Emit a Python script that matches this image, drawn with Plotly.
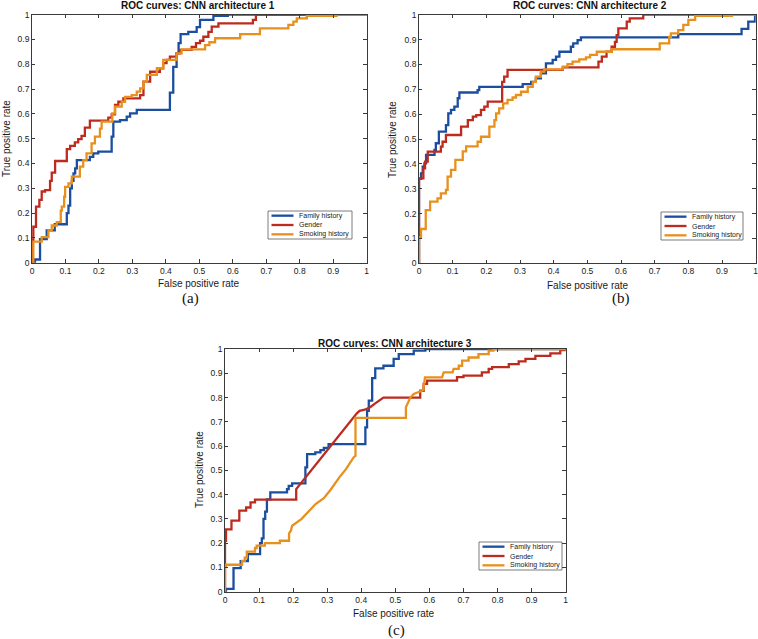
import plotly.graph_objects as go

W, H = 758, 639

# ---------------- data ----------------
series_names = ["Family history", "Gender", "Smoking history"]
series_colors = ["#1c4ea0", "#bd2b1e", "#e8901d"]
panel_titles = ["ROC curves: CNN architecture 1",
                "ROC curves: CNN architecture 2",
                "ROC curves: CNN architecture 3"]
panel_labels = ["(a)", "(b)", "(c)"]
tick_vals = [0, 0.1, 0.2, 0.3, 0.4, 0.5, 0.6, 0.7, 0.8, 0.9, 1]
tick_labels = ["0", "0.1", "0.2", "0.3", "0.4", "0.5", "0.6", "0.7", "0.8", "0.9", "1"]

# Architecture 1 (step events: at FPR x the TPR rises to y)
a1_family_fpr = [0, 0.009, 0.024, 0.044, 0.068, 0.104, 0.109, 0.114, 0.119, 0.124,
                 0.129, 0.134, 0.173, 0.183, 0.198, 0.238, 0.243, 0.263, 0.283, 0.293,
                 0.313, 0.412, 0.422, 0.432, 0.438, 0.444, 0.467, 0.492, 0.502, 0.542,
                 0.585, 1.0]
a1_family_tpr = [0, 0.013, 0.095, 0.13, 0.155, 0.20, 0.23, 0.30, 0.33, 0.36,
                 0.38, 0.414, 0.427, 0.441, 0.448, 0.508, 0.569, 0.575, 0.589, 0.602,
                 0.616, 0.686, 0.79, 0.844, 0.885, 0.922, 0.931, 0.95, 0.979, 0.995,
                 1.0, 1.0]
a1_gender_fpr = [0, 0.0, 0.004, 0.012, 0.022, 0.029, 0.039, 0.054, 0.059, 0.069,
                 0.104, 0.114, 0.128, 0.138, 0.148, 0.158, 0.173, 0.228, 0.238, 0.248,
                 0.258, 0.273, 0.323, 0.333, 0.353, 0.382, 0.392, 0.402, 0.412, 0.432,
                 0.442, 0.477, 0.49, 0.502, 0.512, 0.527, 0.537, 0.557, 0.66, 0.669, 1.0]
a1_gender_tpr = [0, 0.09, 0.145, 0.226, 0.253, 0.287, 0.293, 0.33, 0.363, 0.41,
                 0.458, 0.471, 0.485, 0.498, 0.511, 0.545, 0.573, 0.585, 0.598, 0.636,
                 0.649, 0.663, 0.676, 0.73, 0.77, 0.784, 0.805, 0.818, 0.831, 0.844,
                 0.858, 0.87, 0.885, 0.895, 0.911, 0.931, 0.952, 0.965, 0.979, 1.0, 1.0]
a1_smoking_fpr = [0, 0.004, 0.029, 0.049, 0.059, 0.074, 0.086, 0.089, 0.096, 0.099,
                  0.109, 0.119, 0.143, 0.153, 0.163, 0.178, 0.188, 0.203, 0.208, 0.24,
                  0.248, 0.268, 0.278, 0.298, 0.313, 0.323, 0.333, 0.343, 0.373, 0.392,
                  0.432, 0.447, 0.517, 0.53, 0.547, 0.622, 0.681, 0.766, 0.781, 0.791,
                  0.821, 0.91, 1.0]
a1_smoking_tpr = [0, 0.085, 0.103, 0.13, 0.15, 0.164, 0.21, 0.226, 0.266, 0.306,
                  0.32, 0.347, 0.387, 0.414, 0.441, 0.481, 0.508, 0.541, 0.569, 0.602,
                  0.629, 0.649, 0.669, 0.676, 0.69, 0.703, 0.73, 0.757, 0.784, 0.818,
                  0.844, 0.86, 0.877, 0.889, 0.905, 0.922, 0.945, 0.959, 0.972, 0.985,
                  0.995, 1.0, 1.0]

# Architecture 2 (step events)
a2_family_fpr = [0, 0.0, 0.006, 0.011, 0.016, 0.021, 0.046, 0.05, 0.059, 0.08,
                 0.087, 0.095, 0.105, 0.115, 0.12, 0.174, 0.179, 0.308, 0.333, 0.347,
                 0.362, 0.377, 0.397, 0.407, 0.417, 0.451, 0.458, 0.471, 0.481, 0.77,
                 0.958, 0.978, 0.998, 1.0]
a2_family_tpr = [0, 0.34, 0.362, 0.389, 0.402, 0.436, 0.456, 0.483, 0.53, 0.556,
                 0.603, 0.617, 0.63, 0.664, 0.687, 0.697, 0.71, 0.721, 0.73, 0.744,
                 0.764, 0.804, 0.818, 0.831, 0.851, 0.871, 0.885, 0.898, 0.909, 0.922,
                 0.943, 0.972, 1.0, 1.0]
a2_gender_fpr = [0, 0.0, 0.013, 0.018, 0.026, 0.065, 0.07, 0.08, 0.125, 0.145,
                 0.16, 0.17, 0.184, 0.194, 0.204, 0.247, 0.253, 0.263, 0.427, 0.533,
                 0.543, 0.557, 0.572, 0.582, 0.587, 0.592, 0.617, 0.626, 0.666, 1.0]
a2_gender_tpr = [0, 0.342, 0.382, 0.409, 0.449, 0.469, 0.489, 0.516, 0.55, 0.576,
                 0.59, 0.596, 0.617, 0.63, 0.65, 0.73, 0.751, 0.778, 0.788, 0.811,
                 0.831, 0.851, 0.871, 0.891, 0.918, 0.945, 0.972, 0.985, 1.0, 1.0]
a2_smoking_fpr = [0, 0.0, 0.006, 0.02, 0.033, 0.055, 0.065, 0.08, 0.085, 0.095,
                  0.108, 0.13, 0.14, 0.174, 0.184, 0.209, 0.224, 0.229, 0.238, 0.25,
                  0.263, 0.278, 0.288, 0.303, 0.323, 0.338, 0.347, 0.362, 0.372, 0.427,
                  0.441, 0.456, 0.476, 0.496, 0.508, 0.528, 0.572, 0.715, 0.743, 0.748,
                  0.77, 0.785, 0.8, 0.82, 0.929, 1.0]
a2_smoking_tpr = [0, 0.104, 0.138, 0.214, 0.248, 0.261, 0.281, 0.295, 0.349, 0.376,
                  0.416, 0.45, 0.47, 0.489, 0.509, 0.55, 0.576, 0.603, 0.623, 0.643,
                  0.657, 0.667, 0.677, 0.69, 0.71, 0.73, 0.751, 0.771, 0.78, 0.791,
                  0.801, 0.811, 0.82, 0.828, 0.838, 0.851, 0.861, 0.885, 0.911, 0.925,
                  0.938, 0.959, 0.979, 0.995, 1.0, 1.0]

# Architecture 3
a3_family_fpr = [0, 0.003, 0.025, 0.046, 0.067, 0.103, 0.108, 0.113, 0.118, 0.123,
                 0.133, 0.182, 0.187, 0.197, 0.236, 0.241, 0.265, 0.28, 0.29, 0.304,
                 0.412, 0.417, 0.422, 0.432, 0.441, 0.465, 0.495, 0.51, 0.554, 0.588, 1.0]
a3_family_tpr = [0, 0.012, 0.097, 0.126, 0.155, 0.2, 0.22, 0.3, 0.33, 0.38,
                 0.409, 0.423, 0.436, 0.446, 0.512, 0.567, 0.574, 0.583, 0.592, 0.608,
                 0.677, 0.745, 0.787, 0.88, 0.92, 0.931, 0.959, 0.979, 0.993, 1.0, 1.0]
# (curve vertices, drawn point to point)
a3_gender_fpr = [0, 0, 0.003, 0.003, 0.019, 0.019, 0.042, 0.042, 0.062, 0.062,
                 0.075, 0.075, 0.088, 0.088, 0.209, 0.209, 0.387, 0.395, 0.41, 0.426,
                 0.44, 0.455, 0.465, 0.573, 0.573, 0.583, 0.583, 0.593, 0.593, 0.681,
                 0.681, 0.7, 0.7, 0.754, 0.754, 0.774, 0.774, 0.784, 0.784, 0.833,
                 0.833, 0.862, 0.862, 0.882, 0.882, 0.911, 0.911, 0.955, 0.955, 0.984,
                 0.984, 1.0, 1.0]
a3_gender_tpr = [0, 0.21, 0.21, 0.257, 0.257, 0.293, 0.293, 0.334, 0.334, 0.347,
                 0.347, 0.368, 0.368, 0.379, 0.379, 0.423, 0.735, 0.745, 0.75, 0.76,
                 0.775, 0.79, 0.8, 0.8, 0.828, 0.828, 0.856, 0.856, 0.87, 0.87,
                 0.884, 0.884, 0.89, 0.89, 0.904, 0.904, 0.918, 0.918, 0.925, 0.925,
                 0.938, 0.938, 0.949, 0.949, 0.959, 0.959, 0.972, 0.972, 0.982, 0.982,
                 0.995, 0.995, 1.0]
a3_smoking_fpr = [0, 0, 0.003, 0.003, 0.05, 0.05, 0.058, 0.058, 0.064, 0.064,
                  0.088, 0.088, 0.093, 0.093, 0.117, 0.117, 0.161, 0.161, 0.188, 0.188,
                  0.193, 0.197, 0.225, 0.245, 0.265, 0.29, 0.31, 0.335, 0.355, 0.378,
                  0.383, 0.383, 0.531, 0.531, 0.537, 0.544, 0.554, 0.568, 0.582, 0.587,
                  0.637, 0.642, 0.668, 0.671, 0.686, 0.686, 0.696, 0.696, 0.715, 0.715,
                  0.744, 0.744, 0.774, 0.774, 0.788, 0.788, 1.0]
a3_smoking_tpr = [0, 0.103, 0.103, 0.111, 0.111, 0.127, 0.127, 0.14, 0.14, 0.165,
                  0.165, 0.18, 0.18, 0.19, 0.19, 0.2, 0.2, 0.21, 0.21, 0.24,
                  0.25, 0.272, 0.3, 0.33, 0.36, 0.385, 0.42, 0.47, 0.505, 0.554,
                  0.56, 0.716, 0.716, 0.76, 0.78, 0.8, 0.815, 0.822, 0.83, 0.883,
                  0.883, 0.904, 0.904, 0.918, 0.918, 0.931, 0.931, 0.952, 0.952, 0.965,
                  0.965, 0.979, 0.979, 0.993, 0.993, 1.0, 1.0]

panels = [
    [(a1_family_fpr, a1_family_tpr, "hv"), (a1_gender_fpr, a1_gender_tpr, "hv"),
     (a1_smoking_fpr, a1_smoking_tpr, "hv")],
    [(a2_family_fpr, a2_family_tpr, "hv"), (a2_gender_fpr, a2_gender_tpr, "hv"),
     (a2_smoking_fpr, a2_smoking_tpr, "hv")],
    [(a3_family_fpr, a3_family_tpr, "hv"), (a3_gender_fpr, a3_gender_tpr, "linear"),
     (a3_smoking_fpr, a3_smoking_tpr, "linear")],
]

# ---------------- layout geometry (pixels) ----------------
# plot boxes: left, right, top, bottom
boxes = [(32, 366.7, 14.7, 262.7), (419, 755.7, 14.7, 263.3), (225, 565.7, 349, 591.7)]
title_pos = [(198, 5.5), (590, 5.5), (395, 343)]
xtitle_pos = [(199, 283.5), (588, 285), (394, 613.5)]
ytitle_pos = [(6, 139), (392, 140), (199, 470)]
label_pos = [(190, 298), (621, 298), (396, 630)]
legend_box = [(268, 352, 211, 239), (661, 743, 212, 240), (479, 562, 542, 570)]

FONT = "Liberation Sans, Arial, Helvetica, sans-serif"
AX_COL = "#3a3a3a"

fig = go.Figure()
layout = dict(width=W, height=H, margin=dict(l=0, r=0, t=0, b=0, autoexpand=False),
              paper_bgcolor="white", plot_bgcolor="white", showlegend=False,
              font=dict(family=FONT, color="#222222", size=8.5))
annotations = []
shapes = []

def px(x):
    return x / W

def py(y):
    return 1 - y / H

for i, panel in enumerate(panels):
    sfx = "" if i == 0 else str(i + 1)
    xa, ya = "x" + sfx, "y" + sfx
    for j, (xs, ys, shp) in enumerate(panel):
        fig.add_trace(go.Scatter(x=xs, y=ys, mode="lines", name=series_names[j],
                                 line=dict(color=series_colors[j], width=2.3, shape=shp),
                                 xaxis=xa, yaxis=ya, hoverinfo="skip"))
    l, r, t, b = boxes[i]
    axcommon = dict(range=[0, 1], tickvals=tick_vals, ticktext=tick_labels,
                    showgrid=False, zeroline=False, showline=True, linecolor=AX_COL,
                    linewidth=0.8, mirror="ticks", ticks="inside", ticklen=3.5,
                    tickcolor=AX_COL, tickwidth=0.8, fixedrange=True, automargin=False,
                    ticklabeloverflow="allow",
                    tickfont=dict(family=FONT, size=8.5, color="#1a1a1a"))
    layout["xaxis" + sfx] = dict(axcommon, domain=[px(l), px(r)], anchor=ya)
    layout["yaxis" + sfx] = dict(axcommon, domain=[py(b), py(t)], anchor=xa)

    tx, ty = title_pos[i]
    annotations.append(dict(text="<b>" + panel_titles[i] + "</b>", x=px(tx), y=py(ty),
                            xref="paper", yref="paper", showarrow=False,
                            xanchor="center", yanchor="middle",
                            font=dict(family=FONT, size=10, color="#111111")))
    tx, ty = xtitle_pos[i]
    annotations.append(dict(text="False positive rate", x=px(tx), y=py(ty),
                            xref="paper", yref="paper", showarrow=False,
                            xanchor="center", yanchor="middle",
                            font=dict(family=FONT, size=10, color="#1a1a1a")))
    tx, ty = ytitle_pos[i]
    annotations.append(dict(text="True positive rate", x=px(tx), y=py(ty),
                            xref="paper", yref="paper", showarrow=False, textangle=-90,
                            xanchor="center", yanchor="middle",
                            font=dict(family=FONT, size=10, color="#1a1a1a")))
    tx, ty = label_pos[i]
    annotations.append(dict(text=panel_labels[i], x=px(tx), y=py(ty),
                            xref="paper", yref="paper", showarrow=False,
                            xanchor="center", yanchor="middle",
                            font=dict(family="Liberation Serif, Times New Roman, serif",
                                      size=15, color="#111111")))
    # legend box
    lx0, lx1, ly0, ly1 = legend_box[i]
    shapes.append(dict(type="rect", xref="paper", yref="paper",
                       x0=px(lx0), x1=px(lx1), y0=py(ly1), y1=py(ly0),
                       line=dict(color="#5a5a5a", width=0.8), fillcolor="white",
                       layer="above"))
    row_h = (ly1 - ly0) / 3.0
    for j in range(3):
        yy = ly0 + row_h * (j + 0.5)
        shapes.append(dict(type="line", xref="paper", yref="paper",
                           x0=px(lx0 + 3.5), x1=px(lx0 + 25.5), y0=py(yy), y1=py(yy),
                           line=dict(color=series_colors[j], width=2.3), layer="above"))
        annotations.append(dict(text=series_names[j], x=px(lx0 + 28.5), y=py(yy),
                                xref="paper", yref="paper", showarrow=False,
                                xanchor="left", yanchor="middle",
                                font=dict(family=FONT, size=7, color="#1a1a1a")))

layout["annotations"] = annotations
layout["shapes"] = shapes
fig.update_layout(**layout)
fig.write_html("out.html", config={"displayModeBar": False},
               post_script="document.body.style.margin='0';"
                           "document.body.style.overflow='hidden';")
